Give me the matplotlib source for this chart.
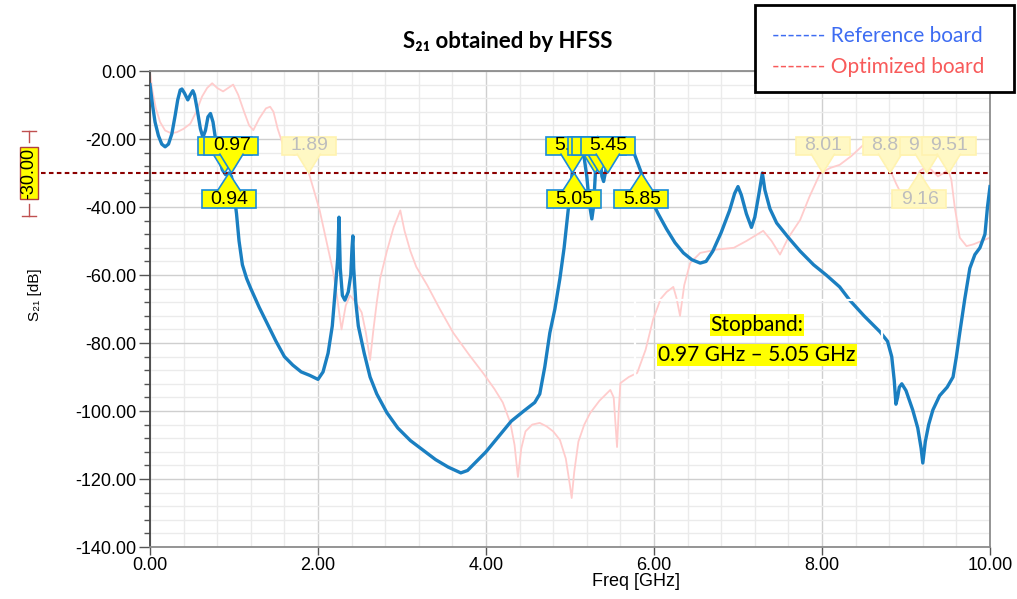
import matplotlib
matplotlib.use("Agg")
import matplotlib.pyplot as plt
import matplotlib.transforms as mtransforms
from matplotlib.patches import Rectangle, Polygon
from matplotlib.ticker import MultipleLocator, FormatStrFormatter

# ---------------- data ----------------
ref_freq = [0.00, 0.03, 0.06, 0.10, 0.14, 0.18, 0.22, 0.26, 0.30, 0.33, 0.36, 0.38, 0.41, 0.45, 0.48,
            0.51, 0.53, 0.56, 0.60, 0.63, 0.66, 0.69, 0.72, 0.75, 0.78, 0.82, 0.86, 0.90, 0.94, 0.97,
            1.00, 1.03, 1.06, 1.10, 1.15, 1.20, 1.30, 1.40, 1.50, 1.60, 1.70, 1.80, 1.90, 2.00, 2.06,
            2.12, 2.17, 2.21, 2.235, 2.25, 2.265, 2.29, 2.32, 2.36, 2.39, 2.405, 2.415, 2.425, 2.45, 2.48,
            2.55, 2.62, 2.70, 2.82, 2.95, 3.10, 3.25, 3.40, 3.55, 3.70, 3.78, 3.90, 4.00, 4.15, 4.30,
            4.45, 4.58, 4.64, 4.70, 4.76, 4.82, 4.88, 4.93, 4.97, 5.00, 5.03, 5.06, 5.09, 5.12, 5.16,
            5.20, 5.23, 5.26, 5.28, 5.30, 5.32, 5.33, 5.35, 5.38, 5.40, 5.42, 5.45, 5.50, 5.60, 5.70,
            5.76, 5.85, 5.95, 6.05, 6.15, 6.25, 6.35, 6.45, 6.55, 6.62, 6.70, 6.80, 6.90, 6.96, 7.00,
            7.04, 7.10, 7.16, 7.20, 7.25, 7.29, 7.32, 7.38, 7.46, 7.60, 7.74, 7.90, 8.05, 8.21, 8.33,
            8.50, 8.69, 8.78, 8.83, 8.86, 8.88, 8.90, 8.92, 8.95, 9.00, 9.08, 9.14, 9.18, 9.20, 9.23,
            9.27, 9.32, 9.40, 9.49, 9.56, 9.60, 9.64, 9.70, 9.76, 9.82, 9.88, 9.94, 9.97, 10.00]
ref_s21 = [-4, -10, -15, -19, -21.5, -22.3, -21.5, -18.5, -13, -8.5, -5.6, -5.3, -6.5, -8.5, -7,
           -5.8, -7, -11, -17, -19.5, -17.5, -13.5, -12.5, -15, -20, -25, -29, -30.5, -30, -31,
           -36, -42, -50, -57, -61, -64, -69.5, -74.5, -79.5, -84, -86.5, -88.5, -89.5, -90.7, -88.5,
           -83, -75, -63, -55, -43, -58, -66, -67.4, -65, -60, -52, -48.5, -58, -68, -75,
           -83, -90, -95, -100.5, -105, -108.7, -111.5, -114.3, -116.5, -118.2, -117.5, -114.5, -112, -107.5, -103,
           -100, -97.5, -95, -87, -77, -70, -61, -52, -43, -36, -29, -24, -21.5, -21.5, -24,
           -31, -39, -43.5, -40, -31, -22, -19.5, -23, -31, -32.5, -30, -26, -22.5, -21.5, -22,
           -24, -30, -37, -42, -46.5, -50.5, -53.5, -55.5, -56.5, -56, -53, -47.5, -41, -36, -34,
           -36.5, -42, -46, -43, -36, -30, -35, -40.5, -44.7, -49, -53, -57, -60, -63.5, -67.4,
           -72, -76.7, -79.5, -84, -91, -98, -96, -93, -92, -94, -99.7, -105, -111, -115.3, -109,
           -104, -99.7, -95.5, -93, -90, -84, -77, -67, -58, -54, -52, -48, -40, -34]

opt_freq = [0.00, 0.03, 0.07, 0.12, 0.18, 0.25, 0.32, 0.40, 0.48, 0.55, 0.62, 0.68, 0.74, 0.80, 0.87,
            0.93, 0.99, 1.05, 1.12, 1.18, 1.23, 1.30, 1.38, 1.43, 1.47, 1.52, 1.58, 1.64, 1.72, 1.80,
            1.85, 1.89, 1.95, 2.02, 2.10, 2.18, 2.23, 2.28, 2.33, 2.38, 2.45, 2.52, 2.57, 2.62, 2.66,
            2.70, 2.74, 2.82, 2.90, 2.98, 3.03, 3.10, 3.17, 3.30, 3.45, 3.61, 3.80, 3.97, 4.10, 4.20,
            4.29, 4.34, 4.38, 4.42, 4.47, 4.55, 4.64, 4.72, 4.80, 4.88, 4.95, 5.00, 5.02, 5.05, 5.10,
            5.17, 5.24, 5.35, 5.48, 5.52, 5.56, 5.58, 5.60, 5.70, 5.80, 5.90, 5.99, 6.08, 6.15, 6.23,
            6.27, 6.31, 6.36, 6.43, 6.55, 6.75, 6.95, 7.10, 7.30, 7.40, 7.50, 7.60, 7.74, 7.85, 7.98,
            8.10, 8.21, 8.35, 8.49, 8.57, 8.65, 8.74, 8.81, 8.88, 8.95, 9.05, 9.10, 9.16, 9.22, 9.30,
            9.38, 9.45, 9.50, 9.54, 9.58, 9.64, 9.72, 9.80, 9.90, 10.00]
opt_s21 = [-0.5, -6, -11, -15, -17.5, -18.3, -18, -17, -15.5, -12, -7.5, -5, -3.6, -5, -6,
           -5, -4, -7, -12, -16, -17.4, -14, -11, -10.5, -12, -17, -21.5, -24, -24.7, -23.5,
           -25, -30, -35, -41, -50, -59, -67, -76, -69, -66, -68, -71, -77, -85, -76,
           -68, -61, -53, -46, -41, -47, -53, -57.6, -63, -70, -77, -83.5, -89, -93.5, -97.5,
           -103.5, -110, -119.4, -111, -106, -104, -103.5, -104.5, -106, -108.5, -114, -122, -125.6, -118, -109,
           -104, -100.6, -97, -93.8, -96, -110.6, -100, -91.8, -90, -88.8, -82, -73, -67, -65, -63.5,
           -67, -72, -63, -56.5, -53.5, -52.5, -52, -50, -47, -50, -54, -49, -43.8, -37, -30,
           -28.5, -27.6, -25, -21.8, -21.8, -23, -26, -29, -33, -36.5, -37, -34, -29.5, -28.5, -29,
           -31, -30, -29, -32, -40, -49, -51.5, -51, -50, -49]

marker_level = -30.0
# marker label texts as they show (partly hidden boxes show only their visible part)
ref_top_freqs = [0.89, 0.97, 5.03, 5.30, 5.35, 5.45]
ref_top_labels = ["", "0.97", "5.", "", "", "5.45"]
ref_bot_freqs = [0.94, 5.05, 5.85]
ref_bot_labels = ["0.94", "5.05", "5.85"]
opt_top_freqs = [1.89, 8.01, 8.81, 9.25, 9.51]
opt_top_labels = ["1.89", "8.01", "8.8", "9", "9.51"]
opt_bot_freqs = [9.16]
opt_bot_labels = ["9.16"]

xticks = [0, 2, 4, 6, 8, 10]
yticks = [0, -20, -40, -60, -80, -100, -120, -140]

# ---------------- figure ----------------
W, H = 1017, 599
fig = plt.figure(figsize=(W / 100, H / 100), dpi=100)
ax = fig.add_axes([150 / W, 1 - 547 / H, 840 / W, 476 / H])
ax.set_xlim(0, 10)
ax.set_ylim(-140, 0)

tick_font = ["Liberation Sans", "DejaVu Sans"]
ax.set_xticks(xticks)
ax.set_yticks(yticks)
ax.xaxis.set_minor_locator(MultipleLocator(0.4))
ax.yaxis.set_minor_locator(MultipleLocator(4))
ax.xaxis.set_major_formatter(FormatStrFormatter("%.2f"))
ax.yaxis.set_major_formatter(FormatStrFormatter("%.2f"))
for lab in ax.get_xticklabels() + ax.get_yticklabels():
    lab.set_family(tick_font)
    lab.set_fontsize(13)
ax.tick_params(axis="y", which="major", length=8, width=1, color="#555555", pad=2)
ax.tick_params(axis="y", which="minor", length=4, width=1, color="#555555")
ax.tick_params(axis="x", which="major", length=6, width=1, color="#555555", pad=1)
ax.tick_params(axis="x", which="minor", length=0)
ax.grid(which="major", color="#cfcfcf", lw=1.0)
ax.grid(which="minor", color="#ebebeb", lw=1.0)
ax.set_axisbelow(True)
for s in ["top", "right", "bottom"]:
    ax.spines[s].set_color("#8c8c8c")
    ax.spines[s].set_linewidth(1.3)
ax.spines["left"].set_color("#444444")
ax.spines["left"].set_linewidth(1.3)

# curves
ax.plot(opt_freq, opt_s21, color="#ffcccc", lw=1.3, zorder=2)
ax.plot(ref_freq, ref_s21, color="#1a7fc1", lw=2.4, zorder=3, solid_joinstyle="round")

# marker level line
ax.plot([-0.13, 1.0], [marker_level, marker_level], transform=ax.get_yaxis_transform(),
        color="#8b0000", lw=1.5, ls=(0, (2.2, 1.6)), clip_on=False, zorder=5)

# white frame left by stopband text box
fig.patches.append(Rectangle((635, H - 380), 247, 80, transform=None, fill=False,
                             ec="white", lw=1.6, zorder=6))

# ---------------- markers ----------------
px = mtransforms.Affine2D().scale(fig.dpi / 100.0)


def draw_marker(f, label, up, fc, ec, tc, z):
    t = px + mtransforms.ScaledTranslation(f, marker_level, ax.transData)
    if up:
        box = Rectangle((-27, 18), 54, 18, transform=t, fc=fc, ec=ec, lw=1.2, zorder=z, clip_on=False)
        tri = Polygon([(-12, 19.5), (0, 0), (12, 19.5)], closed=False, transform=t, fc=fc, ec=ec,
                      lw=1.2, zorder=z, clip_on=False)
        ty = 27
    else:
        box = Rectangle((-27, -35), 54, 18, transform=t, fc=fc, ec=ec, lw=1.2, zorder=z, clip_on=False)
        tri = Polygon([(-12, -18.5), (0, 0), (12, -18.5)], closed=False, transform=t, fc=fc, ec=ec,
                      lw=1.2, zorder=z, clip_on=False)
        ty = -26
    ax.add_patch(box)
    ax.add_patch(tri)
    if label:
        ax.text(-18.5, ty, label, transform=t, ha="left", va="center", fontsize=14,
                family=tick_font, color=tc, zorder=z + 0.01, clip_on=False)


z = 10
for f, l in zip(opt_top_freqs, opt_top_labels):
    draw_marker(f, l, True, "#fff8c4", "#fff3b0", "#bdbdbd", z); z += 0.1
for f, l in zip(opt_bot_freqs, opt_bot_labels):
    draw_marker(f, l, False, "#fff8c4", "#fff3b0", "#bdbdbd", z); z += 0.1
for f, l in zip(ref_top_freqs, ref_top_labels):
    draw_marker(f, l, True, "#ffff00", "#1a8cd8", "black", z); z += 0.1
for f, l in zip(ref_bot_freqs, ref_bot_labels):
    draw_marker(f, l, False, "#ffff00", "#1a8cd8", "black", z); z += 0.1

# level marker label at left
lvl_t = mtransforms.blended_transform_factory(mtransforms.IdentityTransform(), ax.transData)
ax.text(29, marker_level, "-30.00", transform=lvl_t, rotation=90, ha="center", va="center",
        fontsize=13, family=tick_font, color="black", clip_on=False,
        bbox=dict(boxstyle="square,pad=0.05", fc="#ffff00", ec="#b04040", lw=1.0))
for sgn in (1, -1):
    ax.plot([29, 29], [marker_level + sgn * 9, marker_level + sgn * 12.5], transform=lvl_t,
            color="#c05050", lw=1.0, clip_on=False)
    ax.plot([22, 36], [marker_level + sgn * 12.5] * 2, transform=lvl_t,
            color="#c05050", lw=1.0, clip_on=False)

# ---------------- texts ----------------
fig.text(508 / W, 1 - 42 / H, "S\u2082\u2081 obtained by HFSS", ha="center", va="center",
         fontsize=16, fontweight="bold", family=["Lato", "DejaVu Sans"])
fig.text(35 / W, 1 - 295 / H, "S\u2082\u2081 [dB]", rotation=90, ha="center", va="center",
         fontsize=11, family=tick_font)
fig.text(636 / W, 1 - 581 / H, "Freq [GHz]", ha="center", va="center",
         fontsize=13, family=tick_font)

# stopband annotation
fig.text(757 / W, 1 - 325 / H, "Stopband:", ha="center", va="center", fontsize=15,
         family=["Lato", "DejaVu Sans"], zorder=7,
         bbox=dict(boxstyle="square,pad=0.05", fc="#ffff00", ec="none"))
fig.text(757 / W, 1 - 355 / H, "0.97 GHz \u2013 5.05 GHz", ha="center", va="center", fontsize=15,
         family=["Lato", "DejaVu Sans"], zorder=7,
         bbox=dict(boxstyle="square,pad=0.05", fc="#ffff00", ec="none"))

# legend box
fig.patches.append(Rectangle((755, H - 92), 259, 87, transform=None, fill=True, fc="white",
                             ec="black", lw=2.0, zorder=20))
fig.text(772 / W, 1 - 36 / H, "------- Reference board", ha="left", va="center", fontsize=15,
         color="#3d6cf2", family=["Lato", "DejaVu Sans"], zorder=21)
fig.text(772 / W, 1 - 67 / H, "------- Optimized board", ha="left", va="center", fontsize=15,
         color="#f85a5a", family=["Lato", "DejaVu Sans"], zorder=21)

fig.savefig("out.png", dpi=100)
